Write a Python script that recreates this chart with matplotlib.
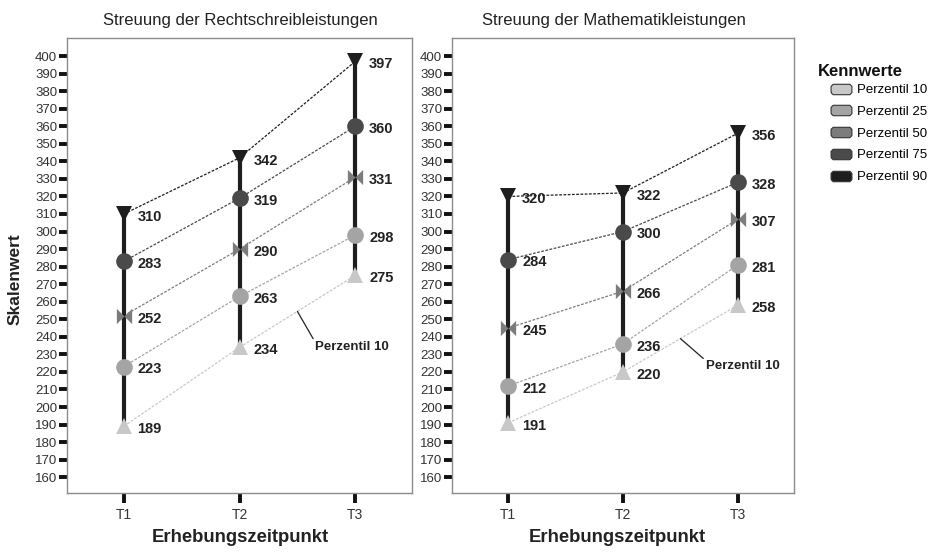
import matplotlib
matplotlib.use("Agg")

import matplotlib.pyplot as plt
import numpy as np
from matplotlib.lines import Line2D

plt.rcParams["font.family"] = ["Liberation Sans", "DejaVu Sans"]

# Data
TIMEPOINTS = ["T1", "T2", "T3"]
PERCENTILES = ["Perzentil 10", "Perzentil 25", "Perzentil 50", "Perzentil 75", "Perzentil 90"]

rs_p10 = [189, 234, 275]
rs_p25 = [223, 263, 298]
rs_p50 = [252, 290, 331]
rs_p75 = [283, 319, 360]
rs_p90 = [310, 342, 397]

ma_p10 = [191, 220, 258]
ma_p25 = [212, 236, 281]
ma_p50 = [245, 266, 307]
ma_p75 = [284, 300, 328]
ma_p90 = [320, 322, 356]

Y_TICKS = list(range(160, 401, 10))

# Styles
COLORS = ["#c8c8c8", "#a4a4a4", "#7c7c7c", "#4a4a4a", "#1e1e1e"]
BOWTIE = [(-1, 1), (0, 0), (1, 1), (1, -1), (0, 0), (-1, -1), (-1, 1)]
MARKERS = ["^", "o", BOWTIE, "o", "v"]
SIZES = [12, 12, 11, 12, 12]
LEGEND_SHAPE = [(-1, -0.3), (-0.8, -0.5), (0.8, -0.5), (1, -0.3),
                (1, 0.3), (0.8, 0.5), (-0.8, 0.5), (-1, 0.3), (-1, -0.3)]

W, H = 936, 554


def px_rect(left, top, right, bottom):
    return [left / W, 1 - bottom / H, (right - left) / W, (bottom - top) / H]


def draw_panel(ax, series, title, title_x, label_x, callout_offset):
    x = np.arange(1, len(TIMEPOINTS) + 1)

    # connecting lines
    for values, color in zip(series, COLORS):
        ax.plot(x, values, color=color, linewidth=0.9,
                linestyle=(0, (2.2, 1.2)), zorder=1)

    # range bars P10 - P90
    ax.vlines(x, series[0], series[-1], color="#1e1e1e", linewidth=3, zorder=2)

    # markers + labels
    for values, color, marker, size in zip(series, COLORS, MARKERS, SIZES):
        ax.plot(x, values, linestyle="none", marker=marker, markersize=size,
                color=color, markeredgewidth=0, zorder=3)
        for xi, v in zip(x, values):
            ax.annotate(str(v), (xi, v), xytext=(10, -2),
                        textcoords="offset points", ha="left", va="center",
                        fontsize=10.5, fontweight="bold", color="#222222")

    # "Perzentil 10" callout on the P10 line between T2 and T3
    ax.annotate("Perzentil 10", (2.5, np.interp(2.5, x, series[0])),
                xytext=callout_offset, textcoords="offset points",
                ha="left", va="center", fontsize=9.5, fontweight="bold",
                color="#222222",
                arrowprops=dict(arrowstyle="-", color="#222222", lw=0.9,
                                shrinkA=0, shrinkB=0,
                                relpos=(0, 0.9)))

    ax.set_xlim(0.51, 3.49)
    ax.set_ylim(151, 410.3)
    ax.set_xticks(x)
    ax.set_xticklabels(TIMEPOINTS)
    ax.set_yticks(Y_TICKS)
    ax.tick_params(axis="y", length=6, width=2.8, color="#111111",
                   labelsize=9.5, labelcolor="#333333", pad=1)
    ax.tick_params(axis="x", length=7, width=2.8, color="#111111",
                   labelsize=10, labelcolor="#333333", pad=4)
    for spine in ax.spines.values():
        spine.set_color("#8c8c8c")
        spine.set_linewidth(1)

    fig = ax.figure
    fig.text(title_x / W, 1 - 20 / H, title, ha="center", va="center",
             fontsize=12, color="#222222")
    fig.text(label_x / W, 1 - 537 / H, "Erhebungszeitpunkt", ha="center",
             va="center", fontsize=13.3, fontweight="bold", color="#222222")


def main():
    fig = plt.figure(figsize=(W / 100, H / 100), dpi=100)

    ax_left = fig.add_axes(px_rect(67, 38, 412, 493))
    ax_right = fig.add_axes(px_rect(452, 38, 794, 493))

    draw_panel(ax_left, [rs_p10, rs_p25, rs_p50, rs_p75, rs_p90],
               "Streuung der Rechtschreibleistungen", 240, 240, (13, -26))
    draw_panel(ax_right, [ma_p10, ma_p25, ma_p50, ma_p75, ma_p90],
               "Streuung der Mathematikleistungen", 614, 617, (18.5, -19.5))

    fig.text(15 / W, 1 - 279 / H, "Skalenwert", rotation=90, ha="center",
             va="center", fontsize=12.5, fontweight="bold", color="#222222")

    fig.text(818 / W, 1 - 72 / H, "Kennwerte", ha="left", va="center",
             fontsize=12, fontweight="bold", color="#111111")

    handles = [Line2D([], [], linestyle="none", marker=LEGEND_SHAPE,
                      markersize=15, markerfacecolor=c,
                      markeredgecolor="#333333", markeredgewidth=0.8)
               for c in COLORS]
    fig.legend(handles, PERCENTILES, loc="upper left",
               bbox_to_anchor=(831 / W, 1 - 84 / H),
               frameon=False, fontsize=9.5, labelspacing=0.72,
               handlelength=1.5, handletextpad=0.45, borderpad=0,
               borderaxespad=0)

    fig.savefig("out.png", dpi=100)
    plt.close(fig)


if __name__ == "__main__":
    main()
